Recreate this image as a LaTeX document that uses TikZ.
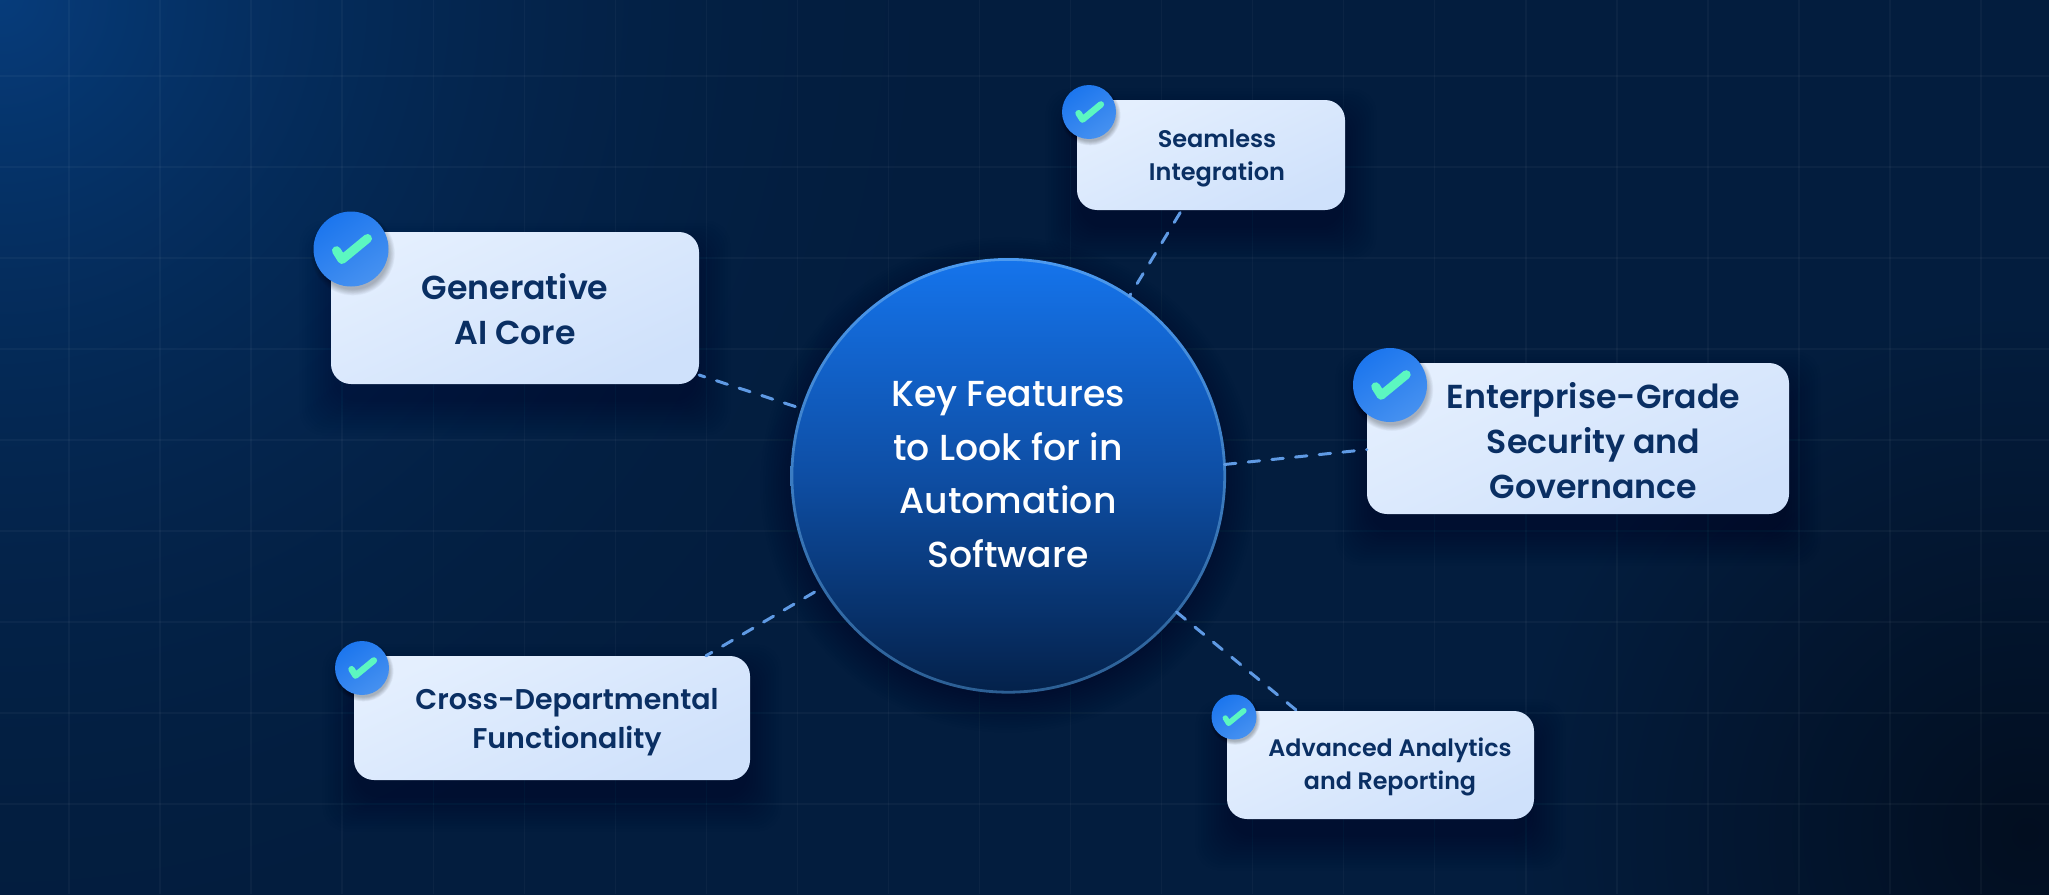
\documentclass[tikz,border=0pt]{standalone}
\usepackage{fontspec}
\setmainfont{Poppins}
\newfontfamily\popsemi{Poppins SemiBold}
\newfontfamily\popmed{Poppins Medium}
\pgfdeclarefunctionalshading{bgshade}{\pgfpoint{-4pt}{-4pt}}{\pgfpoint{2053pt}{898pt}}{}{
  2 copy 
  894 exch sub dup mul exch dup mul add sqrt
  1 exch 1000 div sub dup 0 lt {pop 0} if dup mul
  3 1 roll
  60 sub dup mul exch 2020 exch sub dup mul add sqrt
  1 exch 520 div sub dup 0 lt {pop 0} if
  2 copy -0.004 mul exch 0.012 mul add 0.012 add
  3 1 roll
  2 copy -0.059 mul exch 0.121 mul add 0.114 add
  3 1 roll
  -0.118 mul exch 0.239 mul add 0.243 add
}
\definecolor{gridc}{HTML}{FFFFFF}
\definecolor{cardA}{HTML}{E4EFFE}
\definecolor{cardB}{HTML}{CFE1FB}
\definecolor{inkc}{HTML}{0A2F63}
\definecolor{linkc}{HTML}{5F9AE4}
\definecolor{badgeA}{HTML}{1C76EE}
\definecolor{badgeB}{HTML}{4691F0}
\definecolor{tickc}{HTML}{5CF7C0}
\definecolor{hubA}{HTML}{1574EC}
\definecolor{hubB}{HTML}{0E4EA4}
\definecolor{hubC}{HTML}{04214A}
\definecolor{rimA}{HTML}{4C9AF0}
\definecolor{rimB}{HTML}{2C5F94}
\tikzset{
  gridline/.style={gridc,opacity=.036,line width=1.4pt},
  card/.style={rectangle,rounded corners=20pt,inner sep=0pt,left color=cardA,right color=cardB,shading angle=25},
  link/.style={linkc,line width=3pt,line cap=round,dash pattern=on 11.5pt off 12.3pt},
  cardtext/.style={text=inkc,align=center,inner sep=0pt},
  badgecirc/.style={circle,inner sep=0pt,left color=badgeA,right color=badgeB,shading angle=35},
  tick/.style={tickc,line cap=round,line join=round},
}
% x1 y1 x2 y2 of a box: soft shadow
\newcommand{\softbox}[4]{%
  \foreach \i in {1,...,14}{
    \fill[black,opacity=.011,rounded corners=24pt]
      ({#1-34+\i*2.6},{#2-14+\i*2.6}) rectangle ({#3+34-\i*2.6},{#4+54-\i*2.6});
  }}
% name x y r
\newcommand{\mybadge}[4]{%
  \foreach \i in {1,...,10}{
    \fill[black,opacity=.028] ({#2+#4*.05},{#3+#4*.12}) circle ({#4*(1.14-\i*.018)});
  }
  \node[badgecirc,minimum size={2*#4*1pt}] (#1) at (#2,#3) {};
  \begin{scope}[shift={(#2,#3)},x=#4pt,y=-#4pt]
    \draw[tick,line width={#4*0.24pt}] (-.387,.045) -- (-.24,.28) -- (.44,-.28);
  \end{scope}
}
\begin{document}
\begin{tikzpicture}[x=1pt,y=-1pt]
\useasboundingbox (0,0) rectangle (2049,894);
\node[inner sep=0pt,outer sep=0pt,anchor=north west] (bg) at (-4,-4) {\pgfuseshading{bgshade}};
\foreach \k in {0,...,21}{ \draw[gridline] ({69+91.05*\k},0) -- ({69+91.05*\k},894); }
\foreach \k in {0,...,8}{ \draw[gridline] (0,{76+91*\k}) -- (2049,{76+91*\k}); }

% soft shadows
\softbox{331}{232}{699}{384}
\softbox{1077}{100}{1345}{210}
\softbox{1367}{363}{1789}{514}
\softbox{354}{656}{750}{780}
\softbox{1227}{711}{1534}{819}
\foreach \i in {1,...,16}{
  \fill[black,opacity=.016] (1008,{485}) circle ({250-\i*2.6});
}

% hub
\node[circle,inner sep=0pt,outer sep=0pt,minimum size=433pt,top color=hubA,bottom color=hubC,middle color=hubB] (hub) at (1008.3,475.8) {};
\shade[top color=rimA,bottom color=rimB,even odd rule] (1008.3,475.8) circle (217.8) (1008.3,475.8) circle (215);
\node[text=white,align=center,inner sep=0pt,font=\popmed\fontsize{36.2}{53.6}\selectfont] (hubtext) at (1008,474.5) {Key Features\\to Look for in\\Automation\\Software};

% cards
\node[card,minimum width=368pt,minimum height=152pt] (gen) at (515,308) {};
\node[card,minimum width=268pt,minimum height=110pt] (seam) at (1211,155) {};
\node[card,minimum width=422pt,minimum height=151pt] (ent) at (1578,438.5) {};
\node[card,minimum width=396pt,minimum height=124pt] (cross) at (552,718) {};
\node[card,minimum width=307pt,minimum height=108pt] (adv) at (1380.5,765) {};

% connectors
\draw[link,dash phase=16.3pt] (hub.162) -- (gen.-20.2);
\draw[link,dash phase=8.8pt] (hub.56) -- (seam.242.2);
\draw[link] (hub.3.3) -- (ent.183.7);
\draw[link,dash phase=14.3pt] (hub.211) -- (cross.22.2);
\draw[link] (hub.-39.1) -- (adv.147.1);

% labels
\node[cardtext,font=\popsemi\fontsize{33.2}{45}\selectfont] (gentext) at (515,309) {Generative\\AI Core};
\node[cardtext,font=\popsemi\fontsize{24}{33}\selectfont] (seamtext) at (1217,158) {Seamless\\Integration};
\node[cardtext,font=\popsemi\fontsize{33.2}{45}\selectfont] (enttext) at (1593.5,441) {Enterprise-Grade\\Security and\\Governance};
\node[cardtext,font=\popsemi\fontsize{28.5}{39}\selectfont] (crosstext) at (567,722) {Cross-Departmental\\Functionality};
\node[cardtext,font=\popsemi\fontsize{23.8}{33}\selectfont] (advtext) at (1390,767) {Advanced Analytics\\and Reporting};

% badges
\mybadge{genb}{351}{249}{37.5}
\mybadge{seamb}{1089}{112}{27}
\mybadge{entb}{1390}{385}{37}
\mybadge{crossb}{362}{668}{27}
\mybadge{advb}{1234}{717}{22.5}
\end{tikzpicture}
\end{document}
